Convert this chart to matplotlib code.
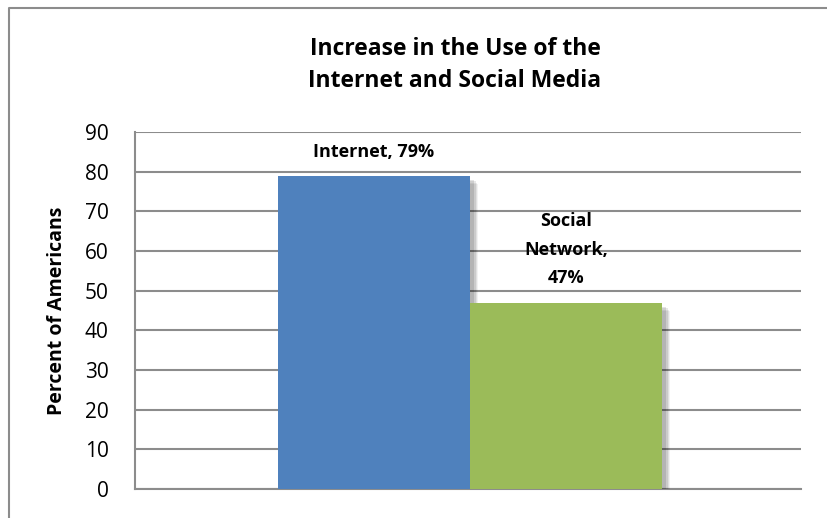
import matplotlib
matplotlib.use("Agg")
import matplotlib.pyplot as plt
import matplotlib.patheffects as pe
from matplotlib.lines import Line2D

# data
categories = ["Internet", "Social\nNetwork"]
values = [79, 47]
colors = ["#4f81bd", "#9bbb59"]
yticks = [0, 10, 20, 30, 40, 50, 60, 70, 80, 90]

plt.rcParams['font.family'] = ['Open Sans', 'DejaVu Sans']

fig = plt.figure(figsize=(8.28, 5.18), dpi=100)
ax = fig.add_axes([135/828, 1 - 489/518, 666/828, 357/518])

# chart border (top and left only, the rest is cropped)
fig.lines.append(Line2D([9/828, 9/828, 1.0], [0.0, 1 - 8/518, 1 - 8/518],
                        transform=fig.transFigure, color="#8c8c8c", linewidth=1.5))

xs = [0, 1]
# soft shadow: several translucent layers
shadow = [pe.SimplePatchShadow(offset=(o, -o), shadow_rgbFace="#000000", alpha=a)
          for o, a in [(6, 0.05), (5, 0.07), (4, 0.09), (3, 0.11)]] + [pe.Normal()]
bars = ax.bar(xs, values, width=1.0, color=colors, zorder=3)
for b in bars:
    b.set_path_effects(shadow)

ax.set_xlim(-1.245, 2.224)
ax.set_ylim(0, 90)
ax.set_yticks(yticks)
ax.set_xticks([])
ax.yaxis.grid(True, color="#8c8c8c", linewidth=1.5, zorder=0)
ax.set_axisbelow(True)
for s in ["top", "right"]:
    ax.spines[s].set_visible(False)
for s in ["left", "bottom"]:
    ax.spines[s].set_color("#8c8c8c")
    ax.spines[s].set_linewidth(1.5)
ax.tick_params(axis="y", length=0, labelsize=15, pad=19)

ax.set_ylabel("Percent of Americans", fontsize=14, fontweight="bold", labelpad=13)

# data labels
ax.text(xs[0], values[0] + 3.8, "Internet, 79%", ha="center", va="bottom",
        fontsize=13, fontweight="bold")
ax.text(xs[1], values[1] + 3.8, "Social\nNetwork,\n47%", ha="center", va="bottom",
        fontsize=13, fontweight="bold", linespacing=1.75)

fig.text(455/828, 1 - 65/518, "Increase in the Use of the\nInternet and Social Media",
         ha="center", va="center", fontsize=16.5, fontweight="bold", linespacing=1.44)

fig.savefig("out.png", dpi=100)
